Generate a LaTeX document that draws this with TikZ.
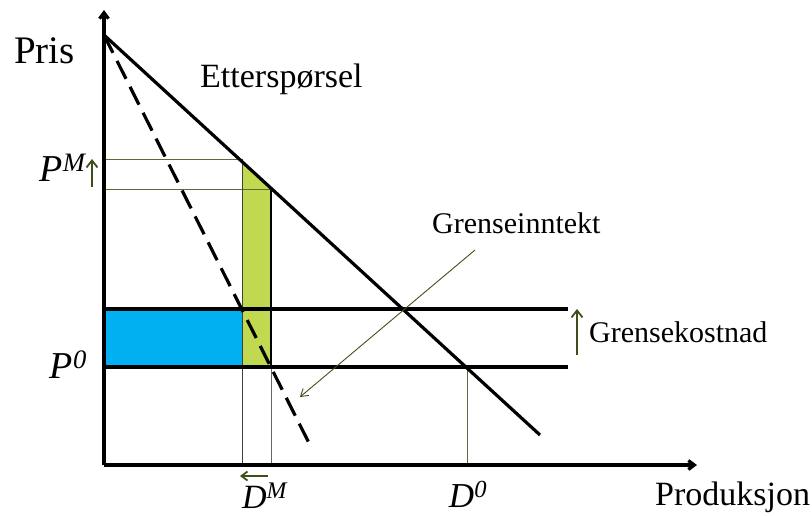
\documentclass[tikz,border=0pt]{standalone}
\usepackage{fontspec}
\setmainfont{Liberation Serif}
\usetikzlibrary{arrows.meta}
\definecolor{olive}{HTML}{3F4F1A}
\definecolor{thinol}{HTML}{5A6B35}
\definecolor{mblue}{HTML}{00B0F0}
\definecolor{mgreen}{HTML}{C0D950}
\tikzset{
  thick line/.style={line width=3.2pt},
  thin line/.style={line width=1pt},
  olive arrow/.style={draw=olive,line width=1.8pt,-{Straight Barb[length=7pt,width=11pt]}},
  lbl/.style={inner sep=0pt,anchor=base west},
}
\begin{document}
\begin{tikzpicture}[x=1pt,y=-1pt]
\useasboundingbox (0,0) rectangle (812,515);
% coordinates
\coordinate (O) at (104,465);
\coordinate (Ytop) at (104,10);
\coordinate (Xend) at (697,465);
\coordinate (A) at (104,35);
\coordinate (Dend) at (540,435);
\coordinate (MRend) at (312,449);
% fills
\fill[mblue] (104,309) rectangle (242,367);
\fill[mgreen] (242,161) -- (271,188) -- (271,367) -- (242,367) -- cycle;
% thin lines
\draw[thinol,thin line] (104,159) -- (242,159);
\draw[thinol,thin line] (104,189) -- (271,189);
\draw[black!75,thin line] (242,159) -- (242,465);
\draw[black!60,thin line] (271,189) -- (271,465);
\draw[thinol,thin line] (467,367) -- (467,463);
% thick horizontal lines
\draw[thick line] (104,309) -- (568,309);
\draw[thick line] (104,367) -- (568,367);
% green rectangle right edge
\draw[line width=2.4pt] (271,189) -- (271,367);
% demand
\draw[thick line] (A) -- (Dend);
% marginal revenue
\draw[thick line,dash pattern=on 20pt off 9pt] (A) -- (MRend);
% axes
\draw[thick line,-{Straight Barb[length=6pt,width=9pt]}] (O) -- (Ytop);
\draw[thick line,-{Straight Barb[length=6pt,width=9pt]}] (O) -- (Xend);
% arrows
\coordinate (PMa) at (92,187); \coordinate (PMb) at (92,159);
\draw[olive arrow] (PMa) -- (PMb);
\coordinate (GKa) at (577,355); \coordinate (GKb) at (577,309);
\draw[olive arrow] (GKa) -- (GKb);
\coordinate (DMa) at (268,476) ; \coordinate (DMb) at (240,476);
\draw[olive,line width=1.8pt,-{Straight Barb[length=6pt,width=9pt]}] (DMa) -- (DMb);
\coordinate (GIa) at (475,250); \coordinate (GIb) at (300,397);
\draw[olive,line width=0.9pt,-{Straight Barb[length=7pt,width=9pt]}] (GIa) -- (GIb);
% labels
\node[lbl,font=\fontsize{39}{39}\selectfont] (pris) at (14,63) {Pris};
\node[lbl,font=\fontsize{34}{34}\selectfont] (ett) at (200,87) {Etterspørsel};
\node[lbl,font=\fontsize{30}{30}\selectfont] (gi) at (432,233) {Grenseinntekt};
\node[lbl,font=\fontsize{30}{30}\selectfont] (gk) at (589,342) {Grensekostnad};
\node[lbl,font=\fontsize{34}{34}\selectfont] (prod) at (655,505) {Produksjon};
\node[anchor=base east,inner sep=0pt,font=\fontsize{38}{38}\selectfont] (pm) at (87,181) {\textit{P}\textsuperscript{\textit{M}}};
\node[anchor=base east,inner sep=0pt,font=\fontsize{38}{38}\selectfont] (p0) at (87,378) {\textit{P}\textsuperscript{\textit{0}}};
\node[anchor=base,inner sep=0pt,font=\fontsize{34}{34}\selectfont] (dm) at (265,508) {\textit{D}\textsuperscript{\textit{M}}};
\node[anchor=base,inner sep=0pt,font=\fontsize{35}{35}\selectfont] (d0) at (468,507) {\textit{D}\textsuperscript{\textit{0}}};
\end{tikzpicture}
\end{document}
